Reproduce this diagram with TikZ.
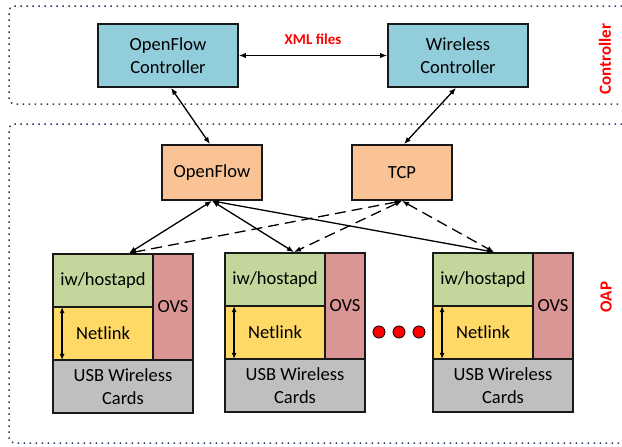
\documentclass[tikz,border=0pt]{standalone}
\usepackage{fontspec}
\setmainfont{Carlito}
\usetikzlibrary{arrows.meta,calc}
\definecolor{ctrlblue}{HTML}{92CDDC}
\definecolor{protoorange}{HTML}{FAC396}
\definecolor{hostgreen}{HTML}{C3D69B}
\definecolor{ovsred}{HTML}{D99694}
\definecolor{netyellow}{HTML}{FFD966}
\definecolor{usbgray}{HTML}{BFBFBF}
\definecolor{regionblue}{HTML}{203864}
\definecolor{labelred}{HTML}{FF0000}
\tikzset{
  box/.style={draw=black!90, line width=1.8pt, inner sep=0pt, align=center,
    font=\fontsize{18.5}{23}\selectfont},
  conn/.style={{Latex[length=7pt,width=5.5pt]}-{Latex[length=7pt,width=5.5pt]}, line width=1.3pt, black},
  dconn/.style={conn, dash pattern=on 11pt off 6pt},
  region/.style={regionblue, line width=1.5pt, dash pattern=on 1.5pt off 4.5pt, rounded corners=5pt},
  regionlabel/.style={text=labelred, font=\fontsize{17}{20}\selectfont\bfseries, rotate=90},
  ellip/.style={circle, fill=red, draw=black, line width=0.8pt, minimum size=12pt, inner sep=0pt}
}
\begin{document}
\begin{tikzpicture}[x=1pt,y=-1pt]
\useasboundingbox (0,0) rectangle (622,447);
% regions
\draw[region] (640,6) -- (9,6) -- (9,104) -- (640,104);
\draw[region] (640,124) -- (9,124) -- (9,443) -- (640,443);
\node[regionlabel] (lc) at (605,59) {Controller};
\node[regionlabel] (lo) at (606,297) {OAP};
% controllers
\node[box, fill=ctrlblue, minimum width=140pt, minimum height=63pt] (ofc) at (168,55.5) {OpenFlow\\Controller};
\node[box, fill=ctrlblue, minimum width=140pt, minimum height=63pt] (wc) at (458,55.5) {Wireless\\Controller};
\draw[conn] (ofc.east) -- (wc.east -| wc.west) node[midway, above=7pt, text=labelred, font=\fontsize{15}{18}\selectfont\bfseries] (xml) {XML files};
% protocol boxes
\node[box, fill=protoorange, minimum width=100pt, minimum height=55pt] (of) at (212,172.5) {OpenFlow};
\node[box, fill=protoorange, minimum width=100pt, minimum height=55pt] (tcp) at (402,172.5) {TCP};
\draw[conn] ([xshift=3pt]ofc.south) -- ([xshift=-2pt]of.north);
\draw[conn] ([xshift=-2pt]wc.south) -- ([xshift=2pt]tcp.north);
% stacks
\foreach \L/\T/\i in {53/254/1, 225/253/2, 433/253/3}{
  \node[box, fill=hostgreen, minimum width=100pt, minimum height=53pt] (g\i) at (\L+50,\T+26.5) {iw/hostapd};
  \node[box, fill=netyellow, minimum width=100pt, minimum height=53pt] (n\i) at (\L+50,\T+79.5) {Netlink};
  \node[box, fill=ovsred, minimum width=40pt, minimum height=106pt] (o\i) at (\L+120,\T+53) {OVS};
  \node[box, fill=usbgray, minimum width=140pt, minimum height=53pt] (u\i) at (\L+70,\T+132.5) {USB Wireless\\Cards};
  \draw[{Latex[length=6pt,width=5pt]}-{Latex[length=6pt,width=5pt]}, line width=1.3pt]
    ([xshift=10pt,yshift=-1pt]n\i.north west) -- ([xshift=10pt,yshift=1pt]n\i.south west);
}
% protocol connectors
\draw[dconn] (tcp.south) -- ([xshift=26pt]g1.north);
\draw[dconn] (tcp.south) -- ([xshift=19pt]g2.north);
\draw[dconn] (tcp.south) -- ([xshift=11pt]g3.north);
\draw[conn] (of.south) -- ([xshift=26pt]g1.north);
\draw[conn] (of.south) -- ([xshift=19pt]g2.north);
\draw[conn] (of.south) -- ([xshift=11pt]g3.north);
% ellipsis
\node[ellip] (d1) at (379,332) {};
\node[ellip] (d2) at (399,332) {};
\node[ellip] (d3) at (419,332) {};
\end{tikzpicture}
\end{document}
